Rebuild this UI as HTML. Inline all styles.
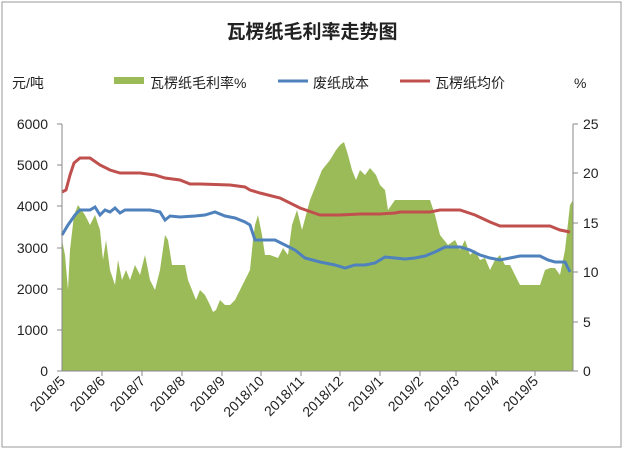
<!DOCTYPE html>
<html><head><meta charset="utf-8"><style>
body{margin:0;background:#fff;}
svg text{font-family:"Liberation Sans","Noto Sans CJK SC",sans-serif;fill:#222;}
</style></head><body>
<svg width="624" height="451" viewBox="0 0 624 451">
<rect x="2" y="2" width="619" height="445" fill="#fff" stroke="#999" stroke-width="1"/>
<text x="312" y="38" font-size="19" font-weight="bold" text-anchor="middle">瓦楞纸毛利率走势图</text>
<text x="12" y="88" font-size="14">元/吨</text>
<rect x="114" y="77" width="30" height="7" fill="#9bbb59"/>
<text x="150" y="88" font-size="14">瓦楞纸毛利率%</text>
<line x1="278" y1="81" x2="308" y2="81" stroke="#4f81bd" stroke-width="3"/>
<text x="313" y="88" font-size="14">废纸成本</text>
<line x1="400" y1="81" x2="430" y2="81" stroke="#c0504d" stroke-width="3"/>
<text x="435" y="88" font-size="14">瓦楞纸均价</text>
<text x="574" y="88" font-size="14">%</text>
<polygon fill="#9bbb59" points="62,371 62,240 65,255 68,290 70,250 74,215 78,205 85,215 90,225 95,215 100,230 103,260 106,240 110,270 115,285 118,260 122,280 126,270 130,280 135,265 140,275 145,255 150,280 155,290 160,270 165,235 168,240 172,265 178,265 185,265 188,280 192,290 196,300 200,290 205,295 210,305 213,312 216,310 220,300 225,305 230,305 235,300 240,290 245,280 250,270 253,240 255,225 258,215 262,235 265,255 270,255 278,258 283,248 288,255 292,225 297,210 302,230 310,200 316,185 322,170 330,160 336,150 340,145 344,142 348,155 352,170 356,180 360,170 365,175 370,168 376,175 380,185 385,190 388,210 395,200 400,200 410,200 420,200 430,200 435,215 440,235 448,245 455,240 460,250 465,240 470,255 475,250 480,260 485,258 490,270 495,260 500,255 505,265 510,265 515,275 520,285 525,285 535,285 540,285 545,270 550,268 555,268 560,275 565,250 570,205 573,200 573,371"/>
<polyline fill="none" stroke="#4f81bd" stroke-width="3" points="62,235 68,225 75,215 80,210 90,210 95,207 100,215 105,210 110,212 115,208 120,213 125,210 130,210 140,210 150,210 160,212 165,220 170,216 180,217 195,216 205,215 215,212 225,216 235,218 245,222 250,225 255,240 265,240 275,240 285,245 295,250 305,258 320,262 335,265 345,268 355,265 365,265 375,263 385,257 395,258 405,259 415,258 425,256 435,252 445,247 460,247 470,250 480,255 490,258 500,260 510,258 520,256 530,256 540,256 548,260 555,262 565,262 570,272"/>
<polyline fill="none" stroke="#c0504d" stroke-width="3" points="62,192 66,190 70,175 74,163 80,158 90,158 100,165 110,170 120,173 140,173 155,175 165,178 180,180 190,184 200,184 230,185 245,187 250,190 260,193 280,198 300,208 320,215 340,215 360,214 380,214 395,213 400,212 430,212 440,210 460,210 475,215 490,222 500,226 520,226 550,226 560,230 570,232"/>
<g stroke="#888" stroke-width="1">
<line x1="62" y1="124" x2="62" y2="371"/><line x1="573" y1="124" x2="573" y2="371"/>
<line x1="62" y1="371" x2="573" y2="371"/>
<line x1="57" y1="124" x2="62" y2="124"/><line x1="57" y1="165" x2="62" y2="165"/><line x1="57" y1="206" x2="62" y2="206"/><line x1="57" y1="248" x2="62" y2="248"/><line x1="57" y1="289" x2="62" y2="289"/><line x1="57" y1="330" x2="62" y2="330"/><line x1="57" y1="371" x2="62" y2="371"/>
<line x1="573" y1="124" x2="578" y2="124"/><line x1="573" y1="173" x2="578" y2="173"/><line x1="573" y1="223" x2="578" y2="223"/><line x1="573" y1="272" x2="578" y2="272"/><line x1="573" y1="322" x2="578" y2="322"/><line x1="573" y1="371" x2="578" y2="371"/>
<line x1="102" y1="371" x2="102" y2="376"/><line x1="142" y1="371" x2="142" y2="376"/><line x1="182" y1="371" x2="182" y2="376"/><line x1="222" y1="371" x2="222" y2="376"/><line x1="261" y1="371" x2="261" y2="376"/><line x1="301" y1="371" x2="301" y2="376"/><line x1="340" y1="371" x2="340" y2="376"/><line x1="380" y1="371" x2="380" y2="376"/><line x1="420" y1="371" x2="420" y2="376"/><line x1="456" y1="371" x2="456" y2="376"/><line x1="496" y1="371" x2="496" y2="376"/><line x1="535" y1="371" x2="535" y2="376"/>
</g>
<g font-size="14" text-anchor="end">
<text x="48" y="129">6000</text><text x="48" y="170">5000</text><text x="48" y="211">4000</text><text x="48" y="253">3000</text><text x="48" y="294">2000</text><text x="48" y="335">1000</text><text x="48" y="376">0</text>
</g>
<g font-size="14">
<text x="583" y="129">25</text><text x="583" y="178">20</text><text x="583" y="228">15</text><text x="583" y="277">10</text><text x="583" y="327">5</text><text x="583" y="376">0</text>
</g>
<g font-size="14" text-anchor="end">
<text transform="translate(66,382) rotate(-45)">2018/5</text>
<text transform="translate(106,382) rotate(-45)">2018/6</text>
<text transform="translate(146,382) rotate(-45)">2018/7</text>
<text transform="translate(186,382) rotate(-45)">2018/8</text>
<text transform="translate(226,382) rotate(-45)">2018/9</text>
<text transform="translate(265,382) rotate(-45)">2018/10</text>
<text transform="translate(305,382) rotate(-45)">2018/11</text>
<text transform="translate(344,382) rotate(-45)">2018/12</text>
<text transform="translate(384,382) rotate(-45)">2019/1</text>
<text transform="translate(424,382) rotate(-45)">2019/2</text>
<text transform="translate(460,382) rotate(-45)">2019/3</text>
<text transform="translate(500,382) rotate(-45)">2019/4</text>
<text transform="translate(539,382) rotate(-45)">2019/5</text>
</g>
</svg>
</body></html>
